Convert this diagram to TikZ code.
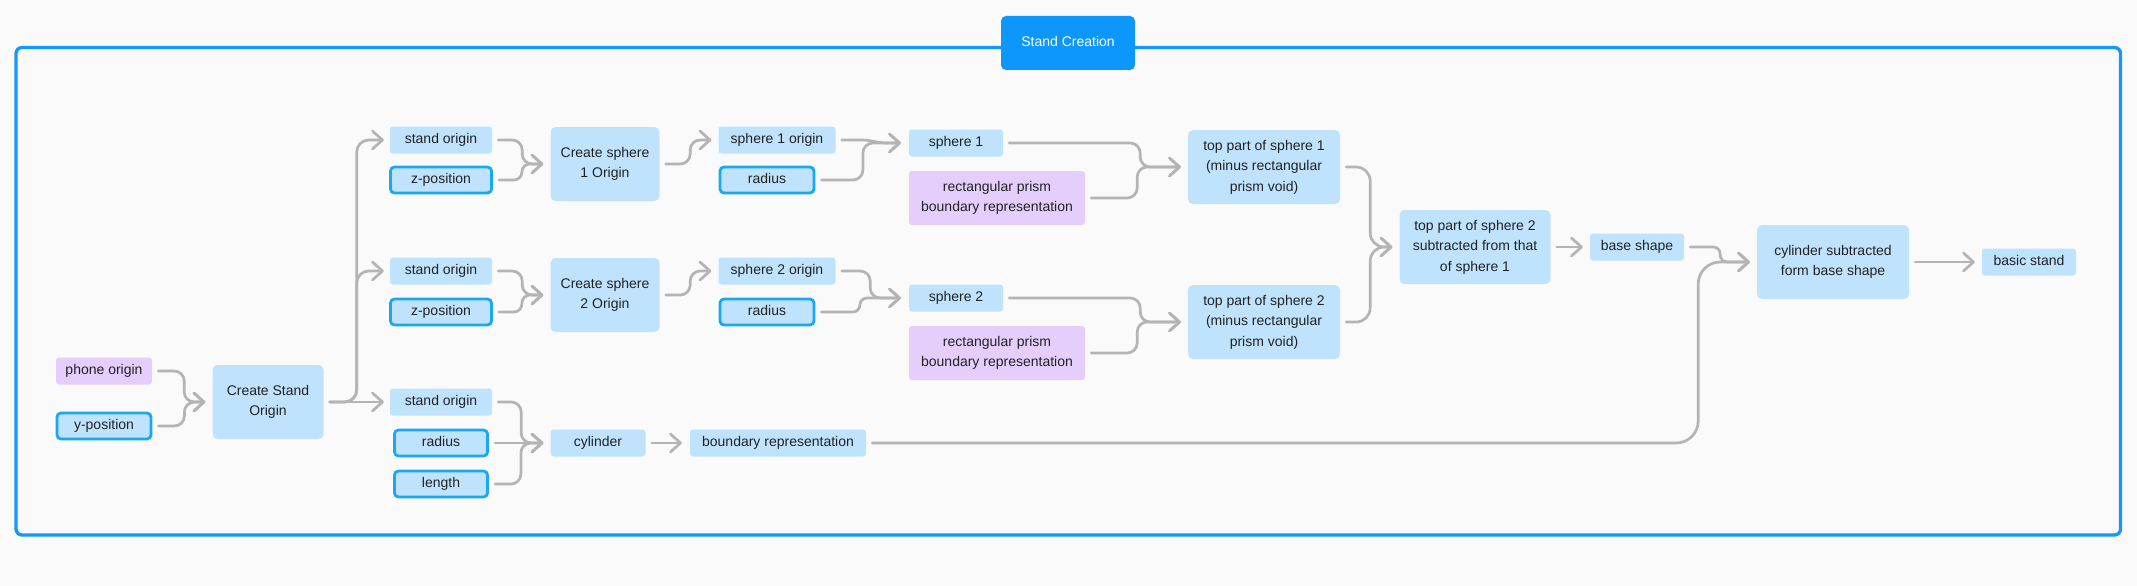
\documentclass[tikz,border=0pt]{standalone}
\usepackage{fontspec}
\setmainfont{Liberation Sans}
\usetikzlibrary{arrows.meta}
\definecolor{bg}{HTML}{FAFAFA}
\definecolor{lb}{HTML}{BFE3FD}
\definecolor{lp}{HTML}{E5CEFC}
\definecolor{bd}{HTML}{1AA8F5}
\definecolor{fr}{HTML}{1597FB}
\definecolor{ttl}{HTML}{0D96FC}
\definecolor{cg}{HTML}{B4B4B4}
\definecolor{tx}{HTML}{222222}
\begin{document}
\begin{tikzpicture}[x=1pt,y=-1pt,
  box/.style={fill=lb, rounded corners=3pt, inner sep=0pt, text=tx,
    font=\fontsize{14}{20.5}\selectfont, align=center},
  purp/.style={fill=lp},
  big/.style={rounded corners=5pt},
  one/.style={text height=10pt, text depth=3pt},
  bord/.style={draw=bd, line width=2.8pt, rounded corners=4pt},
  sz/.style 2 args={minimum width=#1pt, minimum height=#2pt},
  frame/.style={draw=fr, line width=3.3pt, rounded corners=6pt, inner sep=0pt},
  title/.style={fill=ttl, rounded corners=5pt, inner sep=0pt, text=white,
    font=\fontsize{14}{17}\selectfont, text height=10pt, text depth=3pt},
  conn/.style={draw=cg, line width=2.7pt, line cap=round, line join=round,
    -{Straight Barb[length=10pt,width=18pt,round]}}
]
\useasboundingbox (0,0) rectangle (2137,586);
\fill[bg] (0,0) rectangle (2137,586);

% frame and title
\node[frame, sz={2104.5}{487.5}] (frame) at (1068.25,291.25) {};
\node[title, sz={134}{54}] (title) at (1068,43) {Stand Creation};

% left column
\node[box,one,purp,sz={96}{27}] (phone) at (104,371) {phone origin};
\node[box,one,bord,sz={94}{26}] (ypos) at (104,426) {y-position};
\node[box,big,sz={111}{74}] (cso) at (268,402) {Create Stand\\Origin};

% stand origins and inputs
\node[box,one,sz={102}{27}] (so1) at (441,140) {stand origin};
\node[box,one,bord,sz={101}{26}] (zp1) at (441,180) {z-position};
\node[box,one,sz={102}{27}] (so2) at (441,271) {stand origin};
\node[box,one,bord,sz={101}{26}] (zp2) at (441,312) {z-position};
\node[box,one,sz={102}{27}] (so3) at (441,402) {stand origin};
\node[box,one,bord,sz={93}{26}] (rad3) at (441,443) {radius};
\node[box,one,bord,sz={93}{26}] (len) at (441,484) {length};

% create sphere origins, cylinder
\node[box,big,sz={109}{74}] (cs1) at (605,164) {Create sphere\\1 Origin};
\node[box,big,sz={109}{74}] (cs2) at (605,295) {Create sphere\\2 Origin};
\node[box,one,sz={95}{27}] (cyl) at (598,443) {cylinder};
\node[box,one,sz={176}{27}] (br) at (778,443) {boundary representation};

% sphere origins and radii
\node[box,one,sz={117}{27}] (s1o) at (777,140) {sphere 1 origin};
\node[box,one,bord,sz={94}{26}] (r1) at (767,180) {radius};
\node[box,one,sz={117}{27}] (s2o) at (777,271) {sphere 2 origin};
\node[box,one,bord,sz={94}{26}] (r2) at (767,312) {radius};

% spheres and prisms
\node[box,one,sz={94}{27}] (s1) at (956,143) {sphere 1};
\node[box,purp,sz={176}{54}] (rp1) at (997,198) {rectangular prism\\boundary representation};
\node[box,one,sz={94}{27}] (s2) at (956,298) {sphere 2};
\node[box,purp,sz={176}{54}] (rp2) at (997,353) {rectangular prism\\boundary representation};

% top parts
\node[box,big,sz={152}{74}] (tp1) at (1264,167) {top part of sphere 1\\(minus rectangular\\prism void)};
\node[box,big,sz={152}{74}] (tp2) at (1264,322) {top part of sphere 2\\(minus rectangular\\prism void)};
\node[box,big,sz={151}{74}] (sub) at (1475,247) {top part of sphere 2\\subtracted from that\\of sphere 1};
\node[box,one,sz={94}{27}] (bs) at (1637,247) {base shape};
\node[box,big,sz={152}{74}] (csub) at (1833,262) {cylinder subtracted\\form base shape};
\node[box,one,sz={94}{27}] (bst) at (2029,262) {basic stand};

% connectors
\draw[conn,rounded corners=10] ([xshift=6]phone.east) -- ++(26,0) |- ([xshift=-7]cso.west);
\draw[conn,rounded corners=10] ([xshift=6]ypos.east) -- ++(26,0) |- ([xshift=-7]cso.west);

\draw[conn,rounded corners=12] ([xshift=6]cso.east) -- ++(27,0) |- ([xshift=-6]so1.west);
\draw[conn,rounded corners=12] ([xshift=6]cso.east) -- ++(27,0) |- ([xshift=-6]so2.west);
\draw[conn] ([xshift=6]cso.east) -- ([xshift=-6]so3.west);

\draw[conn,rounded corners=10] ([xshift=6]so1.east) -- ++(24,0) |- ([xshift=-7]cs1.west);
\draw[conn,rounded corners=8] ([xshift=6]zp1.east) -- ++(23,0) |- ([xshift=-7]cs1.west);
\draw[conn,rounded corners=10] ([xshift=6]so2.east) -- ++(24,0) |- ([xshift=-7]cs2.west);
\draw[conn,rounded corners=8] ([xshift=6]zp2.east) -- ++(23,0) |- ([xshift=-7]cs2.west);

\draw[conn,rounded corners=10] ([xshift=6]so3.east) -- ++(23,0) |- ([xshift=-7]cyl.west);
\draw[conn] ([xshift=6]rad3.east) -- ([xshift=-7]cyl.west);
\draw[conn,rounded corners=10] ([xshift=6]len.east) -- ++(26,0) |- ([xshift=-7]cyl.west);
\draw[conn] ([xshift=6]cyl.east) -- ([xshift=-8]br.west);

\draw[conn,rounded corners=10] ([xshift=6]cs1.east) -- ++(24.5,0) |- ([xshift=-7]s1o.west);
\draw[conn,rounded corners=10] ([xshift=6]cs2.east) -- ++(24.5,0) |- ([xshift=-7]s2o.west);

\draw[conn] ([xshift=6]s1o.east) -- ++(20,0) to[out=0,in=180] ([xshift=-22]s1.west) -- ([xshift=-8]s1.west);
\draw[conn,rounded corners=10] ([xshift=6]r1.east) -- ++(41.5,0) |- ([xshift=-8]s1.west);
\draw[conn,rounded corners=10] ([xshift=6]s2o.east) -- ++(28.5,0) |- ([xshift=-8]s2.west);
\draw[conn,rounded corners=7] ([xshift=6]r2.east) -- ++(38.5,0) |- ([xshift=-8]s2.west);

\draw[conn,rounded corners=10] ([xshift=6]s1.east) -- ++(131,0) |- ([xshift=-7]tp1.west);
\draw[conn,rounded corners=10] ([xshift=6]rp1.east) -- ++(46,0) |- ([xshift=-7]tp1.west);
\draw[conn,rounded corners=10] ([xshift=6]s2.east) -- ++(131,0) |- ([xshift=-7]tp2.west);
\draw[conn,rounded corners=10] ([xshift=6]rp2.east) -- ++(46,0) |- ([xshift=-7]tp2.west);

\draw[conn,rounded corners=14] ([xshift=6]tp1.east) -- ++(24,0) |- ([xshift=-7]sub.west);
\draw[conn,rounded corners=14] ([xshift=6]tp2.east) -- ++(24,0) |- ([xshift=-7]sub.west);

\draw[conn] ([xshift=6]sub.east) -- ([xshift=-7]bs.west);
\draw[conn,rounded corners=7] ([xshift=6]bs.east) -- ++(30,0) |- ([xshift=-7]csub.west);
\draw[conn,rounded corners=22] ([xshift=6]br.east) -- ++(826,0) |- ([xshift=-7]csub.west);
\draw[conn] ([xshift=6]csub.east) -- ([xshift=-7]bst.west);
\end{tikzpicture}
\end{document}
